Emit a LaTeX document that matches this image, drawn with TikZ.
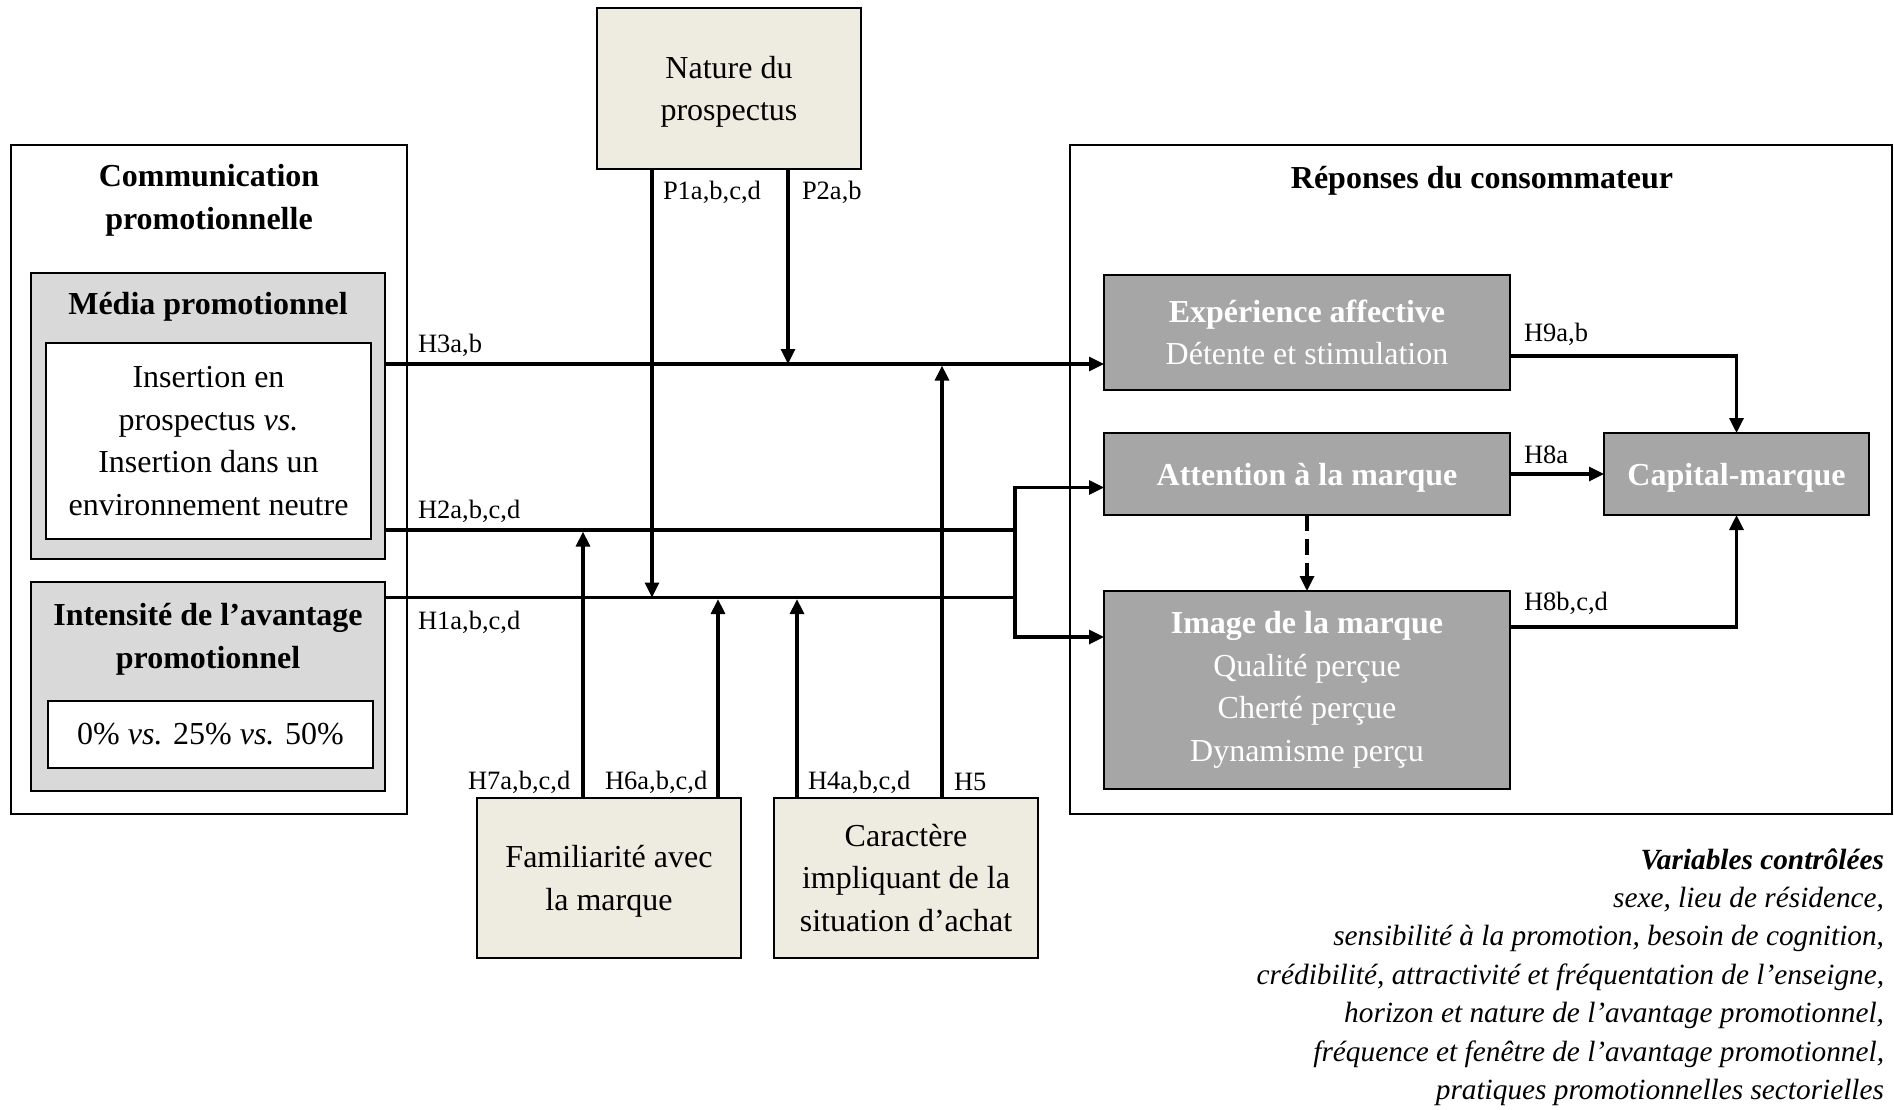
\documentclass[tikz,border=0pt]{standalone}
\usepackage{fontspec}
\setmainfont{Liberation Serif}
\usetikzlibrary{arrows.meta,calc}
\definecolor{beigec}{HTML}{EEECE1}
\definecolor{dgray}{HTML}{A6A6A6}
\definecolor{lgray}{HTML}{D9D9D9}
\begin{document}
\begin{tikzpicture}[x=1pt,y=-1pt,
  >={Triangle[length=15pt,width=14pt]},
  every node/.style={inner sep=0pt,outer sep=0pt},
  fmain/.style={font=\fontsize{32}{42.6}\selectfont},
  fbold/.style={font=\fontsize{32}{42.6}\selectfont\bfseries, align=center},
  flab/.style={font=\fontsize{26.5}{30}\selectfont, anchor=west},
  frame/.style={draw, line width=1.5pt},
  graybox/.style={draw, line width=2pt, fill=lgray},
  whitebox/.style={draw, line width=2pt, fill=white, fmain, align=center},
  beigebox/.style={draw, line width=2pt, fill=beigec, fmain, align=center, minimum width=264pt},
  darkbox/.style={draw, line width=2pt, fill=dgray, text=white, fmain, align=center, minimum width=406pt},
  conn/.style={line width=3.2pt},
  arr/.style={conn, ->},
]
\useasboundingbox (0,0) rectangle (1894,1109);

% left block
\node[frame, minimum width=396pt, minimum height=669pt] (comm) at (209,479.5) {};
\node[fbold] (commt) at (209,200) {Communication\\promotionnelle};
\node[graybox, minimum width=354pt, minimum height=286pt] (media) at (208,416) {};
\node[fbold] (mediat) at (208,307) {Média promotionnel};
\node[whitebox, minimum width=325pt, minimum height=196pt] (mediain) at (208.5,441) {Insertion en\\prospectus \textit{vs.}\\Insertion dans un\\environnement neutre};
\node[graybox, minimum width=354pt, minimum height=209pt] (intens) at (208,686.5) {};
\node[fbold] (intenst) at (208,639) {Intensité de l’avantage\\promotionnel};
\node[whitebox, minimum width=325pt, minimum height=67pt] (intensin) at (210.5,734.5) {0\% \textit{vs.} 25\% \textit{vs.} 50\%};

% moderators
\node[beigebox, minimum height=161pt, text depth=0pt] (nature) at (729,88.5) {Nature du\\prospectus};
\node[beigebox, minimum height=160pt, text depth=0pt] (fam) at (609,878) {Familiarité avec\\la marque};
\node[beigebox, minimum height=160pt] (car) at (906,878) {Caractère\\impliquant de la\\situation d’achat};

% right block
\node[frame, minimum width=822pt, minimum height=669pt] (rep) at (1481,479.5) {};
\node[fbold] (rept) at (1482,181) {Réponses du consommateur};
\node[darkbox, minimum height=115pt] (exp) at (1307,332.5) {\textbf{Expérience affective}\\Détente et stimulation};
\node[darkbox, minimum height=82pt, text depth=0pt] (att) at (1307,474) {\textbf{Attention à la marque}};
\node[darkbox, minimum height=198pt] (img) at (1307,690) {\textbf{Image de la marque}\\Qualité perçue\\Cherté perçue\\Dynamisme perçu};
\node[darkbox, minimum width=265pt, minimum height=82pt, text depth=0pt] (cap) at (1736.5,474) {\textbf{Capital-marque}};

% controlled variables
\node[anchor=east, align=right, font=\fontsize{29.3}{38.4}\selectfont\itshape] (vars) at (1884,977) {\textbf{Variables contrôlées}\\sexe, lieu de résidence,\\sensibilité à la promotion, besoin de cognition,\\crédibilité, attractivité et fréquentation de l’enseigne,\\horizon et nature de l’avantage promotionnel,\\fréquence et fenêtre de l’avantage promotionnel,\\pratiques promotionnelles sectorielles};

% coordinates
\coordinate (yA) at (0,364);
\coordinate (yB) at (0,530);
\coordinate (yC) at (0,597.5);
\coordinate (bt) at (1015,487.5);
\coordinate (bb) at (1015,637);
\coordinate (xP1) at (652,0);
\coordinate (xP2) at (788,0);
\coordinate (xH7) at (583,0);
\coordinate (xH6) at (718,0);
\coordinate (xH4) at (797,0);
\coordinate (xH5) at (942,0);
\coordinate (y9) at (0,356);
\coordinate (y8b) at (0,627);

% main paths
\draw[arr] (media.east |- yA) -- (exp.west |- yA);
\draw[conn] (media.east |- yB) -- (bt |- yB);
\draw[conn] (intens.east |- yC) -- (bt |- yC);
\draw[conn, <->] (att.west |- bt) -- (bt) -- (bb) -- (img.west |- bb);

% moderating paths
\draw[arr] (nature.south -| xP1) -- (xP1 |- yC);
\draw[arr] (nature.south -| xP2) -- (xP2 |- yA);
\draw[arr] (fam.north -| xH7) -- ($(xH7 |- yB)+(0,1.6)$);
\draw[arr] (fam.north -| xH6) -- ($(xH6 |- yC)+(0,1.6)$);
\draw[arr] (car.north -| xH4) -- ($(xH4 |- yC)+(0,1.6)$);
\draw[arr] (car.north -| xH5) -- ($(xH5 |- yA)+(0,1.6)$);

% right paths
\draw[arr] (exp.east |- y9) -| (cap.north);
\draw[arr] (att.east) -- (cap.west);
\draw[arr] (img.east |- y8b) -| (cap.south);
\draw[arr, dash pattern=on 16pt off 8pt] (att.south) -- (img.north);

% labels
\node[flab] (lH3) at (418,345) {H3a,b};
\node[flab] (lH2) at (418,511) {H2a,b,c,d};
\node[flab] (lH1) at (418,622) {H1a,b,c,d};
\node[flab] (lP1) at (663,192) {P1a,b,c,d};
\node[flab] (lP2) at (802,192) {P2a,b};
\node[flab] (lH7) at (468,782) {H7a,b,c,d};
\node[flab] (lH6) at (605,782) {H6a,b,c,d};
\node[flab] (lH4) at (808,782) {H4a,b,c,d};
\node[flab] (lH5) at (954,782) {H5};
\node[flab] (lH9) at (1524,334) {H9a,b};
\node[flab] (lH8a) at (1524,455) {H8a};
\node[flab] (lH8b) at (1524,603) {H8b,c,d};
\end{tikzpicture}
\end{document}
